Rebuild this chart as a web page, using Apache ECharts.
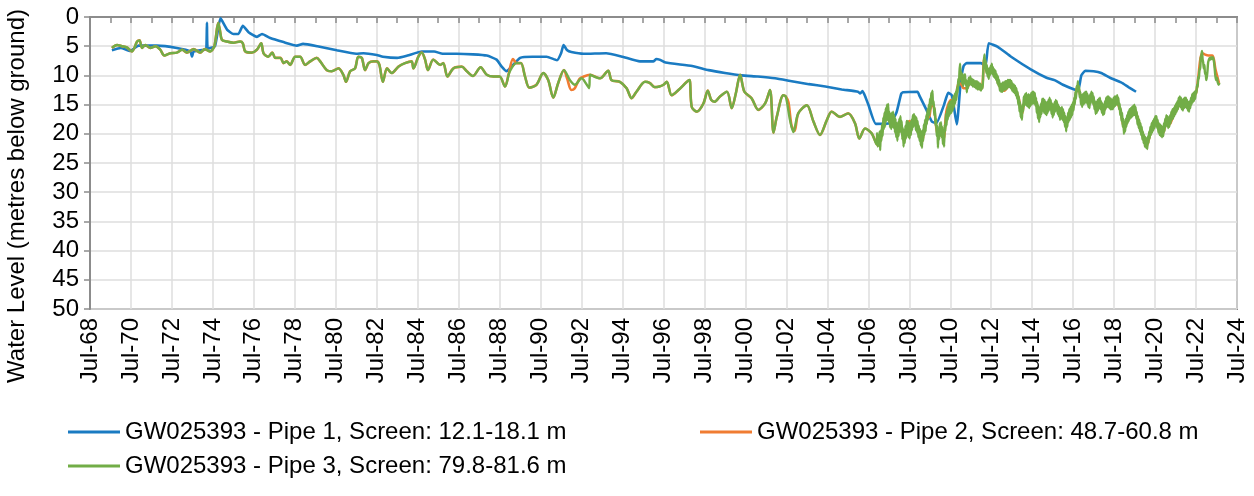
<!DOCTYPE html>
<html>
<head>
<meta charset="utf-8">
<script src="https://cdn.jsdelivr.net/npm/echarts@6/dist/echarts.min.js"></script>
<style>
html,body{margin:0;padding:0;background:#fff;}
#chart{width:1254px;height:496px;}
</style>
</head>
<body>
<div id="chart"></div>
<script>
// ---- data: [decimal year, water level (m below ground)] ----
const seriesNames = [
  'GW025393 - Pipe 1, Screen: 12.1-18.1 m',
  'GW025393 - Pipe 2, Screen: 48.7-60.8 m',
  'GW025393 - Pipe 3, Screen: 79.8-81.6 m'
];
const xStartYear = 1968.5;   // Jul-68
const xEndYear = 2024.5;     // Jul-24
const yTicks = [0, 5, 10, 15, 20, 25, 30, 35, 40, 45, 50];

const pipe1 = [
  [1969.57,5.7],[1970.0,5.3],[1970.47,5.8],[1970.87,4.9],[1971.77,4.9],[1972.74,5.3],[1973.4,5.9],[1973.48,6.8],[1973.56,5.9],
  [1974.1,5.6],[1974.18,5.5],[1974.21,1.0],[1974.25,5.4],[1974.6,5.0],[1974.87,0.2],[1975.2,2.2],[1975.5,2.9],[1975.75,2.9],
  [1975.96,1.5],[1976.24,2.6],[1976.65,3.4],[1976.9,2.9],[1977.3,3.6],[1977.95,4.3],[1978.6,4.9],[1978.9,4.6],[1979.6,5.0],
  [1980.55,5.7],[1981.5,6.3],[1981.85,6.2],[1982.5,6.5],[1982.8,6.8],[1983.5,7.0],[1984.0,6.6],[1984.7,5.9],[1985.3,5.9],
  [1985.72,6.3],[1986.4,6.3],[1987.2,6.4],[1987.87,6.6],[1988.35,7.3],[1988.6,8.5],[1988.84,9.3],[1989.0,8.8],[1989.5,7.0],
  [1990.1,6.8],[1990.8,6.8],[1991.3,7.4],[1991.5,6.2],[1991.62,4.8],[1991.8,5.7],[1992.0,6.0],[1992.6,6.3],[1993.7,6.2],
  [1994.5,6.8],[1995.35,7.6],[1996.0,7.6],[1996.15,7.2],[1996.3,7.3],[1996.6,7.8],[1997.9,8.4],[1998.7,9.1],[1999.5,9.6],
  [2000.3,10.0],[2001.1,10.2],[2001.95,10.5],[2002.76,11.0],[2003.6,11.5],[2004.4,11.9],[2005.2,12.4],[2006.0,12.8],
  [2006.1,13.1],[2006.22,12.7],[2006.5,15.0],[2006.87,18.3],[2007.55,18.2],[2007.87,16.4],[2008.1,13.2],[2008.2,12.9],
  [2008.9,12.8],[2009.0,13.5],[2009.35,16.0],[2009.6,17.9],[2009.82,18.2],[2010.2,15.0],[2010.4,13.0],[2010.58,13.4],
  [2010.82,18.4],[2011.0,11.5],[2011.15,8.4],[2011.3,7.9],[2012.0,7.9],[2012.22,8.4],[2012.38,4.5],[2012.82,5.1],
  [2013.47,6.8],[2014.45,9.0],[2015.2,10.4],[2015.59,10.8],[2016.0,11.6],[2016.56,12.4],[2016.75,12.5],[2016.9,10.0],
  [2017.1,9.2],[2017.5,9.3],[2017.87,9.6],[2018.3,10.4],[2018.84,11.2],[2019.2,12.0],[2019.57,12.8]
];

const pipe2 = [
  [1969.57,5.3],[1969.82,4.8],[1970.06,5.0],[1970.3,5.2],[1970.55,5.9],[1970.8,4.2],[1970.92,4.0],[1971.04,5.3],[1971.2,4.8],
  [1971.44,5.3],[1971.7,5.0],[1971.93,5.6],[1972.13,6.6],[1972.42,6.2],[1972.74,6.1],[1973.0,5.6],[1973.23,6.1],[1973.56,5.5],
  [1973.88,6.1],[1974.1,5.5],[1974.37,5.9],[1974.57,5.0],[1974.76,1.0],[1974.84,2.2],[1974.94,3.9],[1975.18,4.2],[1975.5,4.4],
  [1975.83,4.2],[1975.96,4.5],[1976.08,5.9],[1976.4,6.1],[1976.65,5.6],[1976.86,4.5],[1976.97,6.2],[1977.2,6.8],[1977.4,6.1],
  [1977.55,7.0],[1977.8,7.0],[1977.95,7.9],[1978.1,7.6],[1978.27,8.2],[1978.52,6.8],[1978.76,6.8],[1979.0,8.2],[1979.25,7.6],
  [1979.57,7.0],[1979.74,7.6],[1980.06,9.1],[1980.3,9.3],[1980.63,8.8],[1980.87,9.9],[1981.0,11.1],[1981.2,9.3],[1981.44,8.8],
  [1981.6,6.8],[1981.77,7.0],[1981.93,9.1],[1982.1,7.9],[1982.34,7.6],[1982.5,7.6],[1982.63,8.2],[1982.8,11.1],[1983.0,8.8],
  [1983.23,9.6],[1983.56,8.5],[1983.88,7.9],[1984.2,7.6],[1984.29,8.8],[1984.53,6.8],[1984.7,6.1],[1984.86,7.3],[1985.0,9.1],
  [1985.26,7.3],[1985.6,8.2],[1985.75,7.9],[1985.95,10.2],[1986.24,8.8],[1986.65,8.5],[1986.9,9.3],[1987.2,10.1],[1987.57,8.6],
  [1987.87,9.9],[1988.2,10.2],[1988.5,10.2],[1988.76,11.9],[1988.95,9.6],[1989.15,7.2],[1989.33,7.9],[1989.54,7.9],
  [1989.74,10.2],[1989.95,12.1],[1990.3,11.6],[1990.63,9.6],[1990.87,10.8],[1991.12,13.8],[1991.36,11.3],[1991.64,9.1],
  [1991.8,10.6],[1992.0,12.5],[1992.15,12.3],[1992.4,10.6],[1992.6,10.2],[1992.9,9.9],[1993.4,10.5],[1993.8,9.2],[1993.96,10.8],
  [1994.37,11.1],[1994.7,12.2],[1994.94,13.9],[1995.18,12.8],[1995.6,11.1],[1995.83,11.3],[1996.07,12.0],[1996.3,11.9],
  [1996.5,11.6],[1996.66,11.1],[1996.9,13.4],[1997.23,12.5],[1997.64,11.1],[1997.77,10.8],[1997.88,15.4],[1998.13,16.2],
  [1998.45,14.8],[1998.66,12.6],[1998.83,14.2],[1999.0,14.5],[1999.26,13.6],[1999.6,12.8],[1999.83,15.6],[2000.03,13.1],
  [2000.24,9.9],[2000.45,12.8],[2000.8,13.9],[2001.13,15.9],[2001.46,14.8],[2001.7,12.5],[2001.87,19.8],[2002.03,17.1],
  [2002.35,13.4],[2002.47,13.6],[2002.6,14.6],[2002.75,18.6],[2002.9,19.5],[2003.08,16.5],[2003.5,15.1],[2003.82,17.9],
  [2004.14,20.2],[2004.47,17.7],[2004.71,16.2],[2005.12,17.1],[2005.52,16.5],[2005.85,18.2],[2006.06,20.8],[2006.34,19.1],
  [2006.66,19.9],[2006.98,22.0],[2007.1,21.0],[2007.2,19.0],[2007.3,17.0],[2007.42,15.8],[2007.55,17.6],[2007.68,18.0],
  [2007.8,18.6],[2007.92,20.0],[2008.04,18.4],[2008.16,19.6],[2008.28,21.0],[2008.4,18.6],[2008.52,17.8],[2008.62,18.2],
  [2008.75,17.4],[2008.88,18.6],[2009.0,20.4],[2009.12,21.4],[2009.24,19.0],[2009.36,17.6],[2009.48,17.0],[2009.58,15.2],
  [2009.7,15.4],[2009.82,19.0],[2009.94,20.6],[2010.06,19.6],[2010.18,20.8],[2010.3,16.4],[2010.42,14.8],[2010.55,14.2],
  [2010.68,14.6],[2010.8,13.2],[2010.9,11.4],[2011.0,11.4],[2011.15,12.2],[2011.3,12.2],[2011.45,11.4],[2011.6,11.3],
  [2011.75,11.9],[2011.9,12.3],[2012.05,12.2],[2012.16,7.2],[2012.3,9.4],[2012.5,9.2],[2012.7,9.9],[2012.85,11.4],
  [2013.0,12.4],[2013.15,12.6],[2013.3,12.0],[2013.5,11.7],[2013.7,12.6],[2013.85,14.0],[2014.0,16.6],[2014.15,14.2],
  [2014.35,14.0],[2014.55,13.8],[2014.7,14.6],[2014.85,16.8],[2015.0,15.0],[2015.2,15.6],[2015.4,14.8],[2015.6,15.8],
  [2015.8,15.8],[2016.0,16.6],[2016.15,18.4],[2016.3,17.2],[2016.45,16.0],[2016.6,13.8],[2016.72,11.8],[2016.85,13.4],
  [2017.0,14.6],[2017.2,14.0],[2017.4,13.6],[2017.6,15.6],[2017.8,15.0],[2018.0,16.0],[2018.2,14.6],[2018.4,15.2],
  [2018.6,14.6],[2018.8,16.0],[2019.0,19.0],[2019.2,17.4],[2019.4,16.4],[2019.6,16.8],[2019.8,19.2],[2020.0,21.2],
  [2020.1,22.0],[2020.25,20.2],[2020.45,18.6],[2020.6,18.0],[2020.75,19.4],[2020.9,19.8],[2021.05,18.0],[2021.2,18.4],
  [2021.4,16.8],[2021.6,15.6],[2021.75,14.6],[2021.95,14.8],[2022.15,15.2],[2022.35,13.8],[2022.5,13.0],[2022.62,10.0],
  [2022.72,7.0],[2022.82,6.2],[2022.92,6.4],[2023.1,6.6],[2023.3,6.6],[2023.45,9.0],[2023.62,11.3]
];

const pipe3 = [
  [1969.57,5.3],[1969.82,4.8],[1970.06,5.0],[1970.3,5.2],[1970.55,5.9],[1970.8,4.2],[1970.92,4.0],[1971.04,5.3],[1971.2,4.8],
  [1971.44,5.3],[1971.7,5.0],[1971.93,5.6],[1972.13,6.6],[1972.42,6.2],[1972.74,6.1],[1973.0,5.6],[1973.23,6.1],[1973.56,5.5],
  [1973.88,6.1],[1974.1,5.5],[1974.37,5.9],[1974.57,5.0],[1974.76,1.0],[1974.84,2.2],[1974.94,3.9],[1975.18,4.2],[1975.5,4.4],
  [1975.83,4.2],[1975.96,4.5],[1976.08,5.9],[1976.4,6.1],[1976.65,5.6],[1976.86,4.5],[1976.97,6.2],[1977.2,6.8],[1977.4,6.1],
  [1977.55,7.0],[1977.8,7.0],[1977.95,7.9],[1978.1,7.6],[1978.27,8.2],[1978.52,6.8],[1978.76,6.8],[1979.0,8.2],[1979.25,7.6],
  [1979.57,7.0],[1979.74,7.6],[1980.06,9.1],[1980.3,9.3],[1980.63,8.8],[1980.87,9.9],[1981.0,11.1],[1981.2,9.3],[1981.44,8.8],
  [1981.6,6.8],[1981.77,7.0],[1981.93,9.1],[1982.1,7.9],[1982.34,7.6],[1982.5,7.6],[1982.63,8.2],[1982.8,11.1],[1983.0,8.8],
  [1983.23,9.6],[1983.56,8.5],[1983.88,7.9],[1984.2,7.6],[1984.29,8.8],[1984.53,6.8],[1984.7,6.1],[1984.86,7.3],[1985.0,9.1],
  [1985.26,7.3],[1985.6,8.2],[1985.75,7.9],[1985.95,10.2],[1986.24,8.8],[1986.65,8.5],[1986.9,9.3],[1987.2,10.1],[1987.57,8.6],
  [1987.87,9.9],[1988.2,10.2],[1988.5,10.2],[1988.76,11.9],[1989.0,9.3],[1989.33,7.9],[1989.54,7.9],
  [1989.74,10.2],[1989.95,12.1],[1990.3,11.6],[1990.63,9.6],[1990.87,10.8],[1991.12,13.8],[1991.36,11.3],[1991.64,9.1],
  [1991.93,10.8],[1992.17,11.6],[1992.5,10.5],[1992.74,11.5],[1992.87,12.2],[1992.92,9.9],[1993.4,10.5],[1993.8,9.2],[1993.96,10.8],
  [1994.37,11.1],[1994.7,12.2],[1994.94,13.9],[1995.18,12.8],[1995.6,11.1],[1995.83,11.3],[1996.07,12.0],[1996.3,11.9],
  [1996.5,11.6],[1996.66,11.1],[1996.9,13.4],[1997.23,12.5],[1997.64,11.1],[1997.77,10.8],[1997.88,15.4],[1998.13,16.2],
  [1998.45,14.8],[1998.66,12.6],[1998.83,14.2],[1999.0,14.5],[1999.26,13.6],[1999.6,12.8],[1999.83,15.6],[2000.03,13.1],
  [2000.24,9.9],[2000.45,12.8],[2000.8,13.9],[2001.13,15.9],[2001.46,14.8],[2001.7,12.5],[2001.87,19.8],[2002.03,17.1],
  [2002.35,13.4],[2002.47,13.6],[2002.68,17.7],[2002.84,19.7],[2003.08,16.5],[2003.5,15.1],[2003.82,17.9],
  [2004.14,20.2],[2004.47,17.7],[2004.71,16.2],[2005.12,17.1],[2005.52,16.5],[2005.85,18.2],[2006.06,20.8],[2006.34,19.1],
  [2006.66,19.9],
  [2006.90,21.8],[2006.93,19.9],[2006.96,22.2],[2006.99,20.2],[2007.02,22.0],[2007.05,19.6],[2007.08,22.8],[2007.11,19.4],
  [2007.14,21.2],[2007.17,18.4],[2007.20,20.4],[2007.23,17.2],[2007.26,19.2],[2007.29,16.4],[2007.32,18.8],[2007.35,15.6],
  [2007.38,17.8],[2007.41,15.0],[2007.44,17.6],[2007.47,14.9],[2007.50,18.0],[2007.53,16.2],[2007.56,18.9],[2007.59,16.6],
  [2007.62,19.2],[2007.65,16.4],[2007.68,18.8],[2007.71,16.2],[2007.74,19.0],[2007.77,16.8],[2007.80,19.8],[2007.83,17.4],
  [2007.86,20.6],[2007.89,18.2],[2007.92,21.2],[2007.95,18.0],[2007.98,20.4],[2008.01,17.4],[2008.04,19.6],[2008.07,17.0],
  [2008.10,19.8],[2008.13,17.8],[2008.16,21.0],[2008.19,19.0],[2008.22,22.2],[2008.25,19.4],[2008.28,21.6],[2008.31,18.6],
  [2008.34,20.8],[2008.37,17.8],[2008.40,20.2],[2008.43,17.8],[2008.46,20.6],[2008.49,18.2],[2008.52,20.8],[2008.55,18.0],
  [2008.58,20.2],[2008.61,17.6],[2008.64,19.4],[2008.67,16.8],[2008.70,18.8],[2008.73,16.6],[2008.76,18.6],[2008.79,17.0],
  [2008.82,19.4],[2008.85,17.2],[2008.88,19.8],[2008.91,17.8],[2008.94,20.6],[2008.97,18.6],[2009.00,21.2],[2009.03,19.2],
  [2009.06,22.0],[2009.09,19.6],[2009.12,22.4],[2009.15,19.4],[2009.18,21.2],[2009.21,18.4],[2009.24,20.2],[2009.27,17.6],
  [2009.30,19.6],[2009.33,16.8],[2009.36,18.4],[2009.39,15.8],[2009.42,17.6],[2009.45,15.0],[2009.48,16.8],[2009.51,14.0],
  [2009.54,15.8],[2009.57,13.0],[2009.60,14.6],[2009.63,12.6],[2009.66,15.2],[2009.69,14.4],[2009.72,16.8],[2009.75,15.6],
  [2009.78,18.6],[2009.81,17.4],[2009.84,20.4],[2009.87,18.6],[2009.90,22.4],[2009.93,19.2],[2009.96,21.0],[2009.99,18.2],
  [2010.02,20.2],[2010.05,18.0],[2010.08,20.6],[2010.11,18.8],[2010.14,21.8],[2010.17,19.6],[2010.20,22.2],[2010.23,18.4],
  [2010.26,19.6],[2010.29,16.6],[2010.32,18.6],[2010.35,15.8],[2010.38,17.6],[2010.41,15.0],[2010.44,17.0],[2010.47,14.6],
  [2010.50,16.6],[2010.53,14.4],[2010.56,16.4],[2010.59,14.2],[2010.62,16.0],[2010.65,13.6],[2010.68,15.4],[2010.71,13.2],
  [2010.74,14.8],[2010.77,12.8],[2010.80,14.2],[2010.83,12.0],[2010.86,13.0],[2010.89,10.6],[2010.92,11.8],[2010.95,9.4],
  [2010.98,8.0],[2011.01,10.6],[2011.04,9.4],[2011.07,11.4],[2011.10,9.8],[2011.13,11.8],[2011.16,10.0],[2011.19,11.2],
  [2011.22,9.8],[2011.25,11.6],[2011.28,10.8],[2011.31,12.9],[2011.34,11.0],[2011.37,12.2],[2011.40,10.4],[2011.44,11.6],
  [2011.48,10.2],[2011.52,11.6],[2011.56,10.6],[2011.60,11.9],[2011.64,10.8],[2011.68,12.0],[2011.72,11.0],[2011.76,12.2],
  [2011.80,11.0],[2011.84,12.4],[2011.88,11.2],[2011.92,12.4],[2011.96,11.4],[2012.00,12.6],[2012.04,11.6],[2012.08,12.2],
  [2012.11,9.6],[2012.14,7.6],[2012.17,6.4],[2012.20,8.8],[2012.23,7.4],[2012.26,9.6],[2012.29,8.2],[2012.32,10.2],
  [2012.35,8.8],[2012.38,10.6],[2012.41,8.8],[2012.44,10.0],[2012.47,8.4],[2012.50,9.6],[2012.53,8.0],[2012.56,9.8],
  [2012.59,8.6],[2012.62,10.2],[2012.65,9.0],[2012.68,10.4],[2012.71,9.2],[2012.74,10.8],[2012.77,9.8],[2012.80,11.4],
  [2012.83,10.2],[2012.86,11.8],[2012.89,10.8],[2012.92,12.6],[2012.95,11.4],[2012.98,12.8],[2013.01,11.4],[2013.04,12.8],
  [2013.07,11.2],[2013.10,12.6],[2013.13,11.2],[2013.16,12.4],[2013.19,11.0],[2013.22,12.4],[2013.25,11.0],[2013.28,12.2],
  [2013.31,10.8],[2013.34,12.0],[2013.37,10.8],[2013.40,12.0],[2013.43,10.8],[2013.46,12.2],[2013.49,11.0],[2013.52,12.6],
  [2013.55,11.4],[2013.58,12.8],[2013.61,11.6],[2013.64,13.0],[2013.67,11.8],[2013.70,13.4],[2013.73,12.2],[2013.76,14.0],
  [2013.79,12.8],[2013.82,15.0],[2013.85,13.6],[2013.88,16.2],[2013.91,14.6],[2013.94,17.2],[2013.97,15.4],[2014.00,17.6],
  [2014.03,15.0],[2014.06,16.2],[2014.09,13.6],[2014.12,15.2],[2014.15,13.2],[2014.18,15.0],[2014.21,13.0],[2014.24,15.2],
  [2014.27,13.4],[2014.30,15.4],[2014.33,13.2],[2014.36,15.6],[2014.39,13.4],[2014.42,15.2],[2014.45,13.0],[2014.48,15.0],
  [2014.51,12.8],[2014.54,14.8],[2014.57,12.8],[2014.60,14.8],[2014.63,13.0],[2014.66,15.2],[2014.69,13.8],[2014.72,16.4],
  [2014.75,14.6],[2014.78,17.4],[2014.81,15.2],[2014.84,18.0],[2014.87,15.6],[2014.90,17.2],[2014.93,14.8],[2014.96,16.6],
  [2014.99,14.0],[2015.02,16.0],[2015.05,14.0],[2015.08,16.4],[2015.11,14.2],[2015.14,16.6],[2015.17,14.6],[2015.20,16.8],
  [2015.23,14.6],[2015.26,16.4],[2015.29,14.2],[2015.32,16.0],[2015.35,13.8],[2015.38,15.8],[2015.41,14.2],[2015.44,16.6],
  [2015.47,14.8],[2015.50,17.2],[2015.53,15.0],[2015.56,16.8],[2015.59,14.6],[2015.62,16.2],[2015.65,14.2],[2015.68,16.0],
  [2015.71,14.4],[2015.74,16.6],[2015.77,15.0],[2015.80,17.0],[2015.83,15.4],[2015.86,17.6],[2015.89,15.6],[2015.92,17.4],
  [2015.95,15.4],[2015.98,17.6],[2016.01,15.8],[2016.04,18.0],[2016.07,16.4],[2016.10,18.8],[2016.13,17.0],[2016.16,19.6],
  [2016.19,17.2],[2016.22,18.8],[2016.25,16.4],[2016.28,18.0],[2016.31,15.8],[2016.34,17.6],[2016.37,15.4],[2016.40,17.2],
  [2016.43,15.0],[2016.46,16.8],[2016.49,14.6],[2016.52,16.0],[2016.55,13.8],[2016.58,15.0],[2016.61,12.8],[2016.64,14.0],
  [2016.67,11.8],[2016.70,12.8],[2016.73,11.0],[2016.76,12.4],[2016.79,11.8],[2016.82,13.8],[2016.85,12.8],[2016.88,15.0],
  [2016.91,13.4],[2016.94,15.4],[2016.97,13.2],[2017.00,15.0],[2017.03,13.0],[2017.06,14.8],[2017.09,12.8],[2017.12,14.6],
  [2017.15,12.8],[2017.18,14.8],[2017.21,13.2],[2017.24,15.4],[2017.27,13.6],[2017.30,15.6],[2017.33,13.2],[2017.36,14.8],
  [2017.39,12.8],[2017.42,14.4],[2017.45,13.0],[2017.48,15.0],[2017.51,13.6],[2017.54,15.8],[2017.57,14.4],[2017.60,16.6],
  [2017.63,14.6],[2017.66,16.4],[2017.69,14.2],[2017.72,16.0],[2017.75,14.0],[2017.78,15.6],[2017.81,13.8],[2017.84,15.8],
  [2017.87,14.4],[2017.90,16.4],[2017.93,14.8],[2017.96,16.8],[2017.99,15.0],[2018.02,16.6],[2018.05,14.4],[2018.08,15.8],
  [2018.11,13.8],[2018.14,15.4],[2018.17,13.6],[2018.20,15.4],[2018.23,13.6],[2018.26,15.6],[2018.29,13.8],[2018.32,15.8],
  [2018.35,14.0],[2018.38,15.8],[2018.41,14.2],[2018.44,15.8],[2018.47,13.8],[2018.50,15.4],[2018.53,13.6],[2018.56,15.2],
  [2018.59,13.6],[2018.62,15.0],[2018.65,13.4],[2018.68,15.0],[2018.71,13.8],[2018.74,15.8],[2018.77,14.8],[2018.80,16.8],
  [2018.83,15.6],[2018.86,17.8],[2018.89,16.4],[2018.92,18.8],[2018.95,17.4],[2018.98,20.0],[2019.01,18.0],[2019.04,19.6],
  [2019.07,17.4],[2019.10,18.8],[2019.13,16.8],[2019.16,18.2],[2019.19,16.2],[2019.22,17.8],[2019.25,15.8],[2019.28,17.4],
  [2019.31,15.6],[2019.34,17.2],[2019.37,15.4],[2019.40,17.0],[2019.43,15.2],[2019.46,16.8],[2019.49,15.0],[2019.52,16.8],
  [2019.55,15.4],[2019.58,17.4],[2019.61,16.2],[2019.64,18.4],[2019.67,17.0],[2019.70,19.0],[2019.73,17.6],[2019.76,19.6],
  [2019.79,18.2],[2019.82,20.2],[2019.85,18.8],[2019.88,21.0],[2019.91,19.6],[2019.94,21.6],[2019.97,20.2],[2020.00,22.2],
  [2020.03,20.6],[2020.06,22.4],[2020.09,20.8],[2020.12,22.6],[2020.15,20.4],[2020.18,21.6],[2020.21,19.6],[2020.24,20.8],
  [2020.27,18.8],[2020.30,20.2],[2020.33,18.2],[2020.36,19.8],[2020.39,17.8],[2020.42,19.4],[2020.45,17.4],[2020.48,19.0],
  [2020.51,17.0],[2020.54,18.6],[2020.57,17.0],[2020.60,19.0],[2020.63,17.6],[2020.66,19.8],[2020.69,18.2],[2020.72,20.2],
  [2020.75,18.4],[2020.78,20.4],[2020.81,18.6],[2020.84,20.6],[2020.87,18.8],[2020.90,20.4],[2020.93,18.2],[2020.96,19.6],
  [2020.99,17.4],[2021.02,18.8],[2021.05,16.8],[2021.08,18.6],[2021.11,17.0],[2021.14,19.0],[2021.17,17.2],[2021.20,18.8],
  [2021.23,16.8],[2021.26,18.2],[2021.29,16.2],[2021.32,17.6],[2021.35,15.8],[2021.38,17.4],[2021.41,15.6],[2021.44,17.0],
  [2021.47,15.2],[2021.50,16.6],[2021.53,14.8],[2021.56,16.2],[2021.59,14.4],[2021.62,15.8],[2021.65,13.8],[2021.68,15.2],
  [2021.71,13.6],[2021.74,15.4],[2021.77,13.8],[2021.80,15.8],[2021.83,14.2],[2021.86,16.0],[2021.89,14.0],[2021.92,15.6],
  [2021.95,13.8],[2021.98,15.4],[2022.01,13.8],[2022.04,15.6],[2022.07,14.2],[2022.10,16.0],[2022.13,14.6],[2022.16,16.2],
  [2022.19,14.4],[2022.22,15.6],[2022.25,13.8],[2022.28,15.0],[2022.31,13.2],[2022.34,14.6],[2022.37,13.0],[2022.40,14.4],
  [2022.43,12.8],[2022.46,14.0],[2022.49,12.6],[2022.52,13.0],[2022.55,11.6],[2022.58,12.0],[2022.61,10.2],[2022.64,10.6],
  [2022.67,8.8],[2022.70,9.0],[2022.73,7.0],[2022.76,6.6],[2022.79,5.8],[2022.82,7.2],[2022.85,7.8],[2022.88,8.8],
  [2022.91,8.2],[2022.94,9.8],[2022.97,9.6],[2023.00,10.8],[2023.03,10.2],[2023.06,9.2],[2023.09,7.8],[2023.12,7.4],
  [2023.16,7.0],[2023.20,7.3],[2023.24,6.9],[2023.28,7.2],[2023.32,6.9],[2023.36,7.3],[2023.40,8.4],[2023.44,10.0],
  [2023.48,10.8],[2023.52,10.4],[2023.56,11.2],[2023.60,11.6],[2023.65,11.3]
];

const colors = ['#1a7bc2', '#f07c32', '#72ad47'];
const FONT = '"Liberation Sans", Arial, sans-serif';

const toX = arr => arr.map(p => [p[0] - xStartYear, p[1]]);

const chart = echarts.init(document.getElementById('chart'), null, {renderer: 'canvas'});

function mkSeries(name, data, color, smooth, width) {
  return {
    name: name, type: 'line', data: toX(data), showSymbol: false, symbol: 'none',
    smooth: smooth, lineStyle: {color: color, width: width}, itemStyle: {color: color},
    animation: false, emphasis: {disabled: true}
  };
}

const legendBase = {
  orient: 'horizontal', icon: 'rect', itemWidth: 52, itemHeight: 3, itemGap: 0, padding: 0,
  textStyle: {fontFamily: FONT, fontSize: 24, color: '#000'},
  selectedMode: false
};

chart.setOption({
  animation: false,
  backgroundColor: '#fff',
  grid: {left: 90, right: 17, top: 17, bottom: 187, show: true, borderColor: '#8c8c8c', borderWidth: 2, containLabel: false},
  xAxis: {
    type: 'value', min: 0, max: xEndYear - xStartYear, interval: 2,
    axisLine: {show: true, lineStyle: {color: '#8c8c8c', width: 2}},
    axisTick: {show: true, length: 6, lineStyle: {color: '#8c8c8c', width: 1.5}},
    minorTick: {show: true, splitNumber: 2, length: 6, lineStyle: {color: '#8c8c8c', width: 1.5}},
    splitLine: {show: true, lineStyle: {color: '#dedede', width: 1.5}},
    axisLabel: {
      rotate: 90, margin: 9, fontFamily: FONT, fontSize: 24, color: '#000',
      formatter: v => { const y = Math.round(xStartYear - 0.5 + v) % 100; return 'Jul-' + String(y).padStart(2, '0'); }
    }
  },
  yAxis: {
    type: 'value', inverse: true, min: yTicks[0], max: yTicks[yTicks.length - 1], interval: 5,
    axisLine: {show: true, lineStyle: {color: '#8c8c8c', width: 2}},
    axisTick: {show: true, length: 6, lineStyle: {color: '#8c8c8c', width: 1.5}},
    splitLine: {show: true, lineStyle: {color: '#dedede', width: 1.5}},
    axisLabel: {margin: 11, fontFamily: FONT, fontSize: 24, color: '#000'}
  },
  legend: [
    Object.assign({}, legendBase, {left: 68, top: 420, data: [seriesNames[0]]}),
    Object.assign({}, legendBase, {left: 700, top: 420, data: [seriesNames[1]]}),
    Object.assign({}, legendBase, {left: 68, top: 454, data: [seriesNames[2]]})
  ],
  graphic: [{
    type: 'text', x: 17, y: 196, rotation: Math.PI / 2,
    style: {text: 'Water Level (metres below ground)', fontFamily: FONT, fontSize: 24, fill: '#000',
            align: 'center', verticalAlign: 'middle'}
  }],
  series: [
    mkSeries(seriesNames[0], pipe1, colors[0], 0.15, 2.6),
    mkSeries(seriesNames[1], pipe2, colors[1], 0.3, 2.6),
    mkSeries(seriesNames[2], pipe3, colors[2], 0.3, 2.4)
  ]
});
</script>
</body>
</html>
